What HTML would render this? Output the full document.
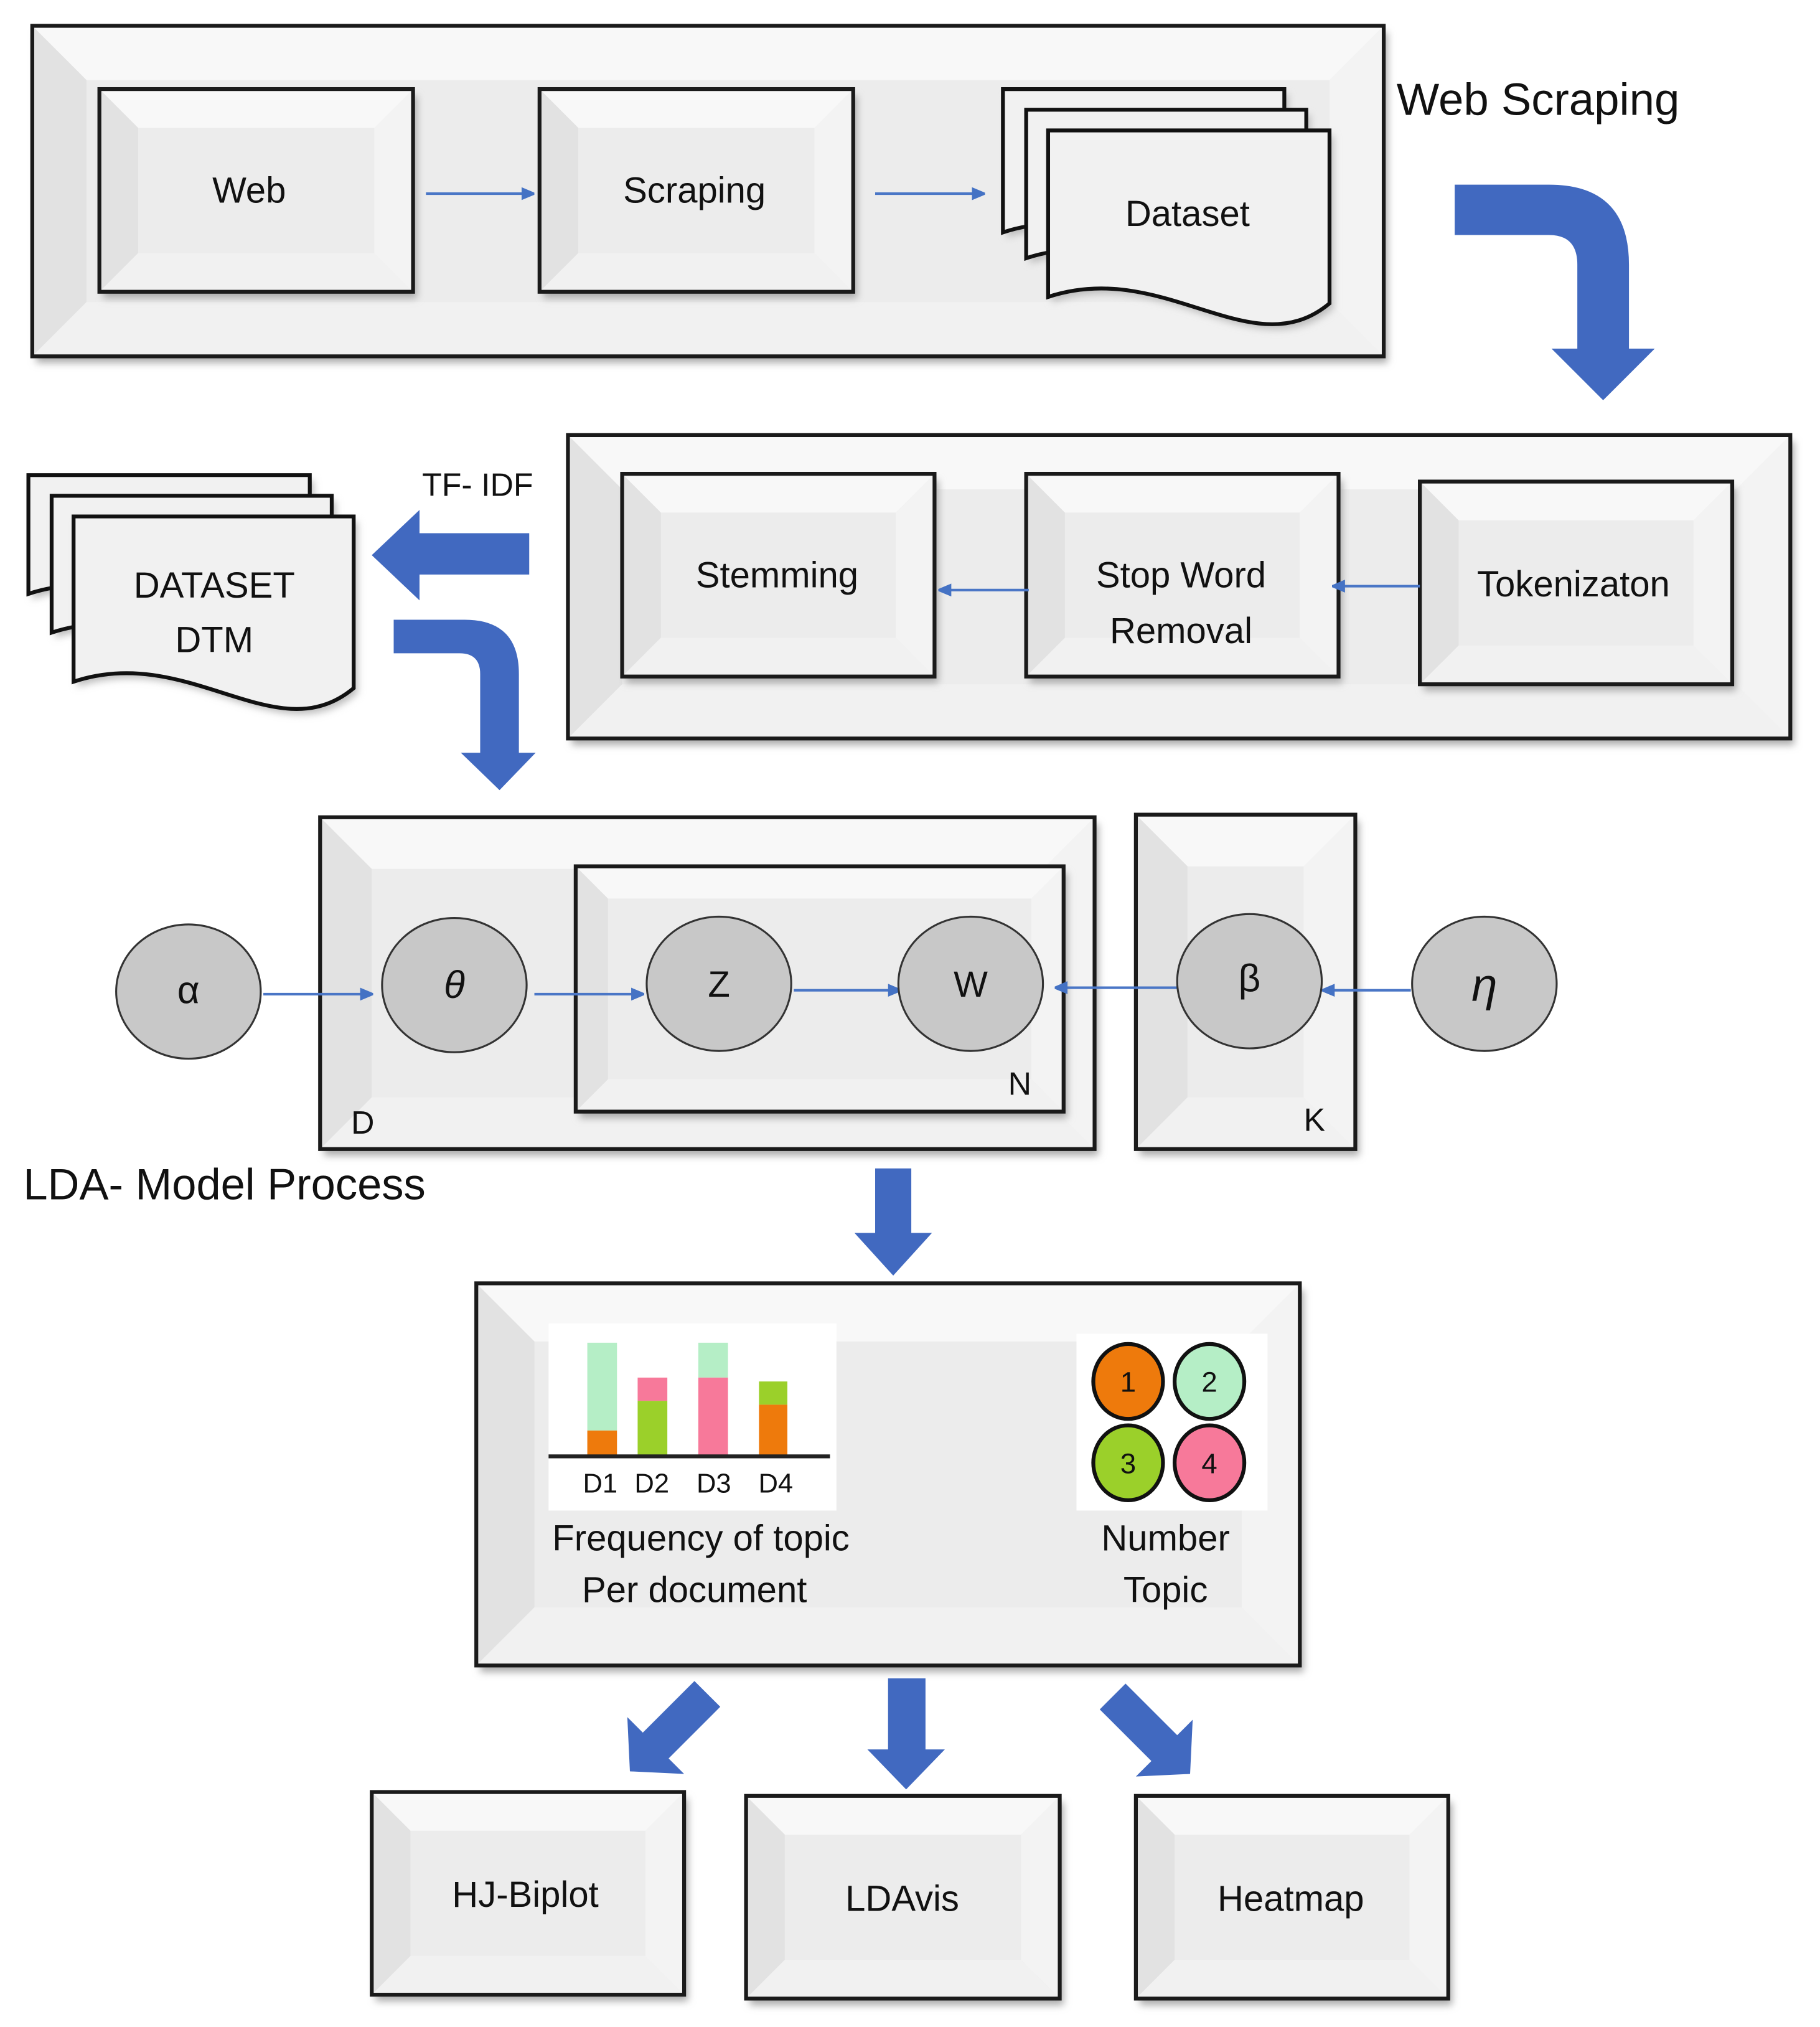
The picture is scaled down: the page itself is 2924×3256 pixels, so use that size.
<!DOCTYPE html>
<html><head><meta charset="utf-8"><style>
html,body{margin:0;padding:0;background:#fff;width:2924px;height:3256px;overflow:hidden}
svg{display:block}
text{font-family:"Liberation Sans",sans-serif;fill:#111}
</style></head><body>
<svg id="s" width="2924" height="3256" viewBox="0 0 1410 1570" preserveAspectRatio="none" xmlns="http://www.w3.org/2000/svg">
<defs>
<filter id="sh" x="-10%" y="-10%" width="130%" height="130%"><feGaussianBlur stdDeviation="3"/></filter>
<marker id="ah" markerWidth="10" markerHeight="10" refX="9" refY="5" orient="auto" markerUnits="userSpaceOnUse"><path d="M0,0 L12,5 L0,10 z" fill="#4472c4"/></marker>
</defs>
<g id="boxes"></g>
<g id="rest">
<g stroke="#4a76c6" stroke-width="2" fill="none" marker-end="url(#ah)">
<line x1="330" y1="150" x2="413" y2="150"/>
<line x1="678" y1="150" x2="762" y2="150"/>
<line x1="797" y1="457" x2="728" y2="457"/>
<line x1="1100" y1="454" x2="1033" y2="454"/>
<line x1="204" y1="770" x2="288" y2="770"/>
<line x1="414" y1="770" x2="498" y2="770"/>
<line x1="615" y1="767" x2="697" y2="767"/>
<line x1="912" y1="765" x2="818" y2="765"/>
<line x1="1093" y1="767" x2="1025" y2="767"/>
</g>
<g fill="#4169c0">
<path d="M1127,143 L1200,143 Q1262,143 1262,205 L1262,270 L1282,270 L1242,310 L1202,270 L1222,270 L1222,205 Q1222,182 1200,182 L1127,182 Z"/>
<path d="M410,413 L325,413 L325,395 L288,430 L325,465 L325,445 L410,445 Z"/>
<path d="M305,480 L360,480 Q402,480 402,522 L402,583 L415,583 L387,612 L357,583 L372,583 L372,522 Q372,506 356,506 L305,506 Z"/>
<path d="M678,905 L706,905 L706,955 L722,955 L692,988 L662,955 L678,955 Z"/>
<path d="M688,1300 L717,1300 L717,1355 L732,1355 L702,1386 L672,1355 L688,1355 Z"/>
<path d="M538,1302 L558,1322 L518,1362 L530,1374 L488,1372 L486,1330 L498,1342 Z"/>
<path d="M872,1304 L852,1324 L892,1364 L880,1376 L922,1374 L924,1332 L912,1344 Z"/>
</g>
<g fill="#c8c8c8" stroke="#333" stroke-width="1.5">
<ellipse cx="146" cy="768" rx="56" ry="52"/>
<ellipse cx="352" cy="763" rx="56" ry="52"/>
<ellipse cx="557" cy="762" rx="56" ry="52"/>
<ellipse cx="752" cy="762" rx="56" ry="52"/>
<ellipse cx="968" cy="760" rx="56" ry="52"/>
<ellipse cx="1150" cy="762" rx="56" ry="52"/>
</g>
<g font-size="30" text-anchor="middle">
<text x="146" y="777">α</text>
<text x="352" y="773" font-style="italic" font-family="Liberation Serif,serif">θ</text>
<text x="557" y="772" font-size="28">Z</text>
<text x="752" y="772" font-size="28">W</text>
<text x="968" y="768">β</text>
<text x="1150" y="775" font-style="italic" font-family="Liberation Serif,serif" font-size="36">η</text>
</g>
<g font-size="28" text-anchor="middle">
<text x="193" y="157">Web</text>
<text x="538" y="157">Scraping</text>
<text x="920" y="175">Dataset</text>
<text x="602" y="455">Stemming</text>
<text x="915" y="455">Stop Word</text>
<text x="915" y="498">Removal</text>
<text x="1219" y="462">Tokenizaton</text>
<text x="166" y="463">DATASET</text>
<text x="166" y="505">DTM</text>
<text x="407" y="1477">HJ-Biplot</text>
<text x="699" y="1480">LDAvis</text>
<text x="1000" y="1480">Heatmap</text>
<text x="543" y="1201">Frequency of topic</text>
<text x="538" y="1241">Per document</text>
<text x="903" y="1201">Number</text>
<text x="903" y="1241">Topic</text>
</g>
<text x="1082" y="89" font-size="35">Web Scraping</text>
<text x="327" y="384" font-size="25">TF- IDF</text>
<text x="18" y="929" font-size="34">LDA- Model Process</text>
<text x="272" y="878" font-size="25">D</text>
<text x="781" y="848" font-size="25">N</text>
<text x="1010" y="876" font-size="25">K</text>
<rect x="425" y="1025" width="223" height="145" fill="#fff"/>
<rect x="455" y="1040" width="23" height="68" fill="#b5eec6"/>
<rect x="455" y="1108" width="23" height="20" fill="#ee7a0c"/>
<rect x="494" y="1067" width="23" height="18" fill="#f7799a"/>
<rect x="494" y="1085" width="23" height="43" fill="#9bd02a"/>
<rect x="541" y="1040" width="23" height="27" fill="#b5eec6"/>
<rect x="541" y="1067" width="23" height="61" fill="#f7799a"/>
<rect x="588" y="1070" width="22" height="18" fill="#9bd02a"/>
<rect x="588" y="1088" width="22" height="40" fill="#ee7a0c"/>
<line x1="425" y1="1128" x2="643" y2="1128" stroke="#222" stroke-width="3"/>
<g font-size="21" text-anchor="middle"><text x="465" y="1156">D1</text><text x="505" y="1156">D2</text><text x="553" y="1156">D3</text><text x="601" y="1156">D4</text></g>
<rect x="834" y="1033" width="148" height="137" fill="#fff"/>
<g stroke="#111" stroke-width="3">
<ellipse cx="874" cy="1070" rx="27" ry="29" fill="#ee7a0c"/>
<ellipse cx="937" cy="1070" rx="27" ry="29" fill="#b5eec6"/>
<ellipse cx="874" cy="1133" rx="27" ry="29" fill="#9bd02a"/>
<ellipse cx="937" cy="1133" rx="27" ry="29" fill="#f7799a"/>
</g>
<g font-size="22" text-anchor="middle"><text x="874" y="1078">1</text><text x="937" y="1078">2</text><text x="874" y="1141">3</text><text x="937" y="1141">4</text></g>
</g>
</svg>
<script>
var NS="http://www.w3.org/2000/svg",g=document.getElementById("boxes");
function el(n,a){var e=document.createElementNS(NS,n);for(var k in a)e.setAttribute(k,a[k]);g.appendChild(e);return e;}
function box(x1,y1,x2,y2,b){
 b=b||30;
 el("rect",{x:x1+3,y:y1+5,width:x2-x1,height:y2-y1,fill:"#aaa",filter:"url(#sh)"});
 el("rect",{x:x1,y:y1,width:x2-x1,height:y2-y1,fill:"#ececec"});
 el("polygon",{points:[x1,y1,x2,y1,x2-b,y1+b,x1+b,y1+b].join(","),fill:"#f8f8f8"});
 el("polygon",{points:[x1,y1,x1+b,y1+b,x1+b,y2-b,x1,y2].join(","),fill:"#e2e2e2"});
 el("polygon",{points:[x2,y1,x2-b,y1+b,x2-b,y2-b,x2,y2].join(","),fill:"#f3f3f3"});
 el("polygon",{points:[x1,y2,x1+b,y2-b,x2-b,y2-b,x2,y2].join(","),fill:"#f1f1f1"});
 el("rect",{x:x1,y:y1,width:x2-x1,height:y2-y1,fill:"none",stroke:"#1a1a1a","stroke-width":3});
}
function doc(x1,y1,x2,y2){
 var w=y2-25;
 el("path",{d:"M"+(x1+3)+","+(y1+4)+" L"+(x2+3)+","+(y1+4)+" L"+(x2+3)+","+(w+4)+" C"+(x2-57)+","+(y2+29)+" "+(x1+93)+","+(y2-56)+" "+(x1+3)+","+(w-1)+" Z",fill:"#bbb",filter:"url(#sh)"});
 el("path",{d:"M"+x1+","+y1+" L"+x2+","+y1+" L"+x2+","+w+" C"+(x2-60)+","+(y2+25)+" "+(x1+90)+","+(y2-60)+" "+x1+","+(w-5)+" Z",fill:"#f1f1f1",stroke:"#111","stroke-width":3});
}
box(25,20,1072,276,42);
box(77,69,320,226);box(418,69,661,226);
doc(777,69,995,210);doc(795,85,1012,230);doc(812,101,1030,260);
box(440,337,1387,572,42);
box(482,367,724,524);box(795,367,1037,524);box(1100,373,1342,530);
doc(22,368,240,490);doc(40,384,257,520);doc(57,400,274,558);
box(248,633,848,890,40);box(446,671,824,861,25);box(880,631,1050,890,40);
box(369,994,1007,1290,45);
box(288,1388,530,1545);box(578,1391,821,1548);box(880,1391,1122,1548);
</script>
</body></html>
